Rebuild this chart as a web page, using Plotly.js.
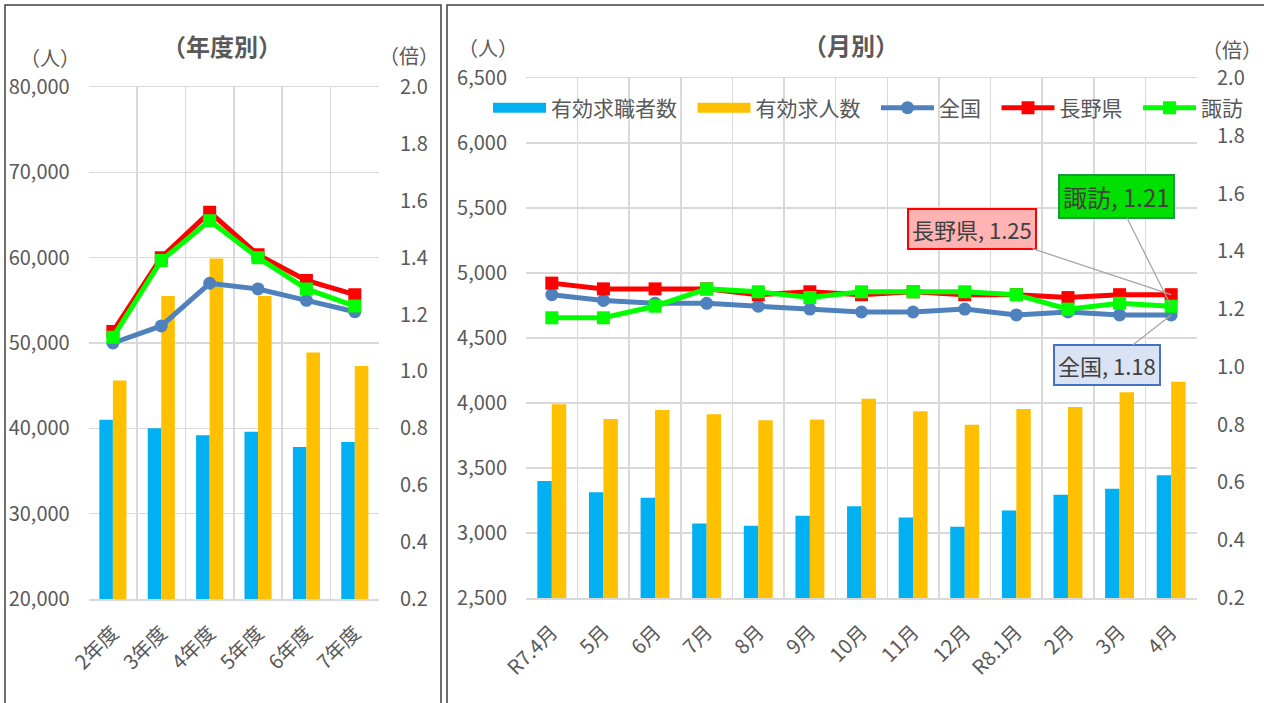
<!DOCTYPE html>
<html>
<head>
<meta charset="utf-8">
<script src="https://cdn.plot.ly/plotly-3.0.1.min.js"></script>
<style>
html,body{margin:0;padding:0;background:#ffffff;}
#chart{width:1264px;height:703px;}
</style>
</head>
<body>
<div id="chart"></div>
<script>
// ---- data: fiscal year chart (年度別) ----
const fyCats = ['2年度','3年度','4年度','5年度','6年度','7年度'];
const fySeekers = [41000, 40000, 39200, 39600, 37800, 38400];
const fyOffers = [45600, 55500, 59900, 55500, 48900, 47300];
const fyNational = [1.10, 1.16, 1.31, 1.29, 1.25, 1.21];
const fyNagano = [1.14, 1.40, 1.56, 1.41, 1.32, 1.27];
const fySuwa = [1.12, 1.39, 1.53, 1.40, 1.29, 1.23];

// ---- data: monthly chart (月別) ----
const moCats = ['R7.4月','5月','6月','7月','8月','9月','10月','11月','12月','R8.1月','2月','3月','4月'];
const moSeekers = [3400, 3313, 3272, 3074, 3056, 3133, 3205, 3120, 3049, 3174, 3295, 3341, 3444];
const moOffers = [3990, 3877, 3946, 3913, 3867, 3874, 4033, 3936, 3833, 3954, 3969, 4082, 4164];
const moNational = [1.25, 1.23, 1.22, 1.22, 1.21, 1.20, 1.19, 1.19, 1.20, 1.18, 1.19, 1.18, 1.18];
const moNagano = [1.29, 1.27, 1.27, 1.27, 1.25, 1.26, 1.25, 1.26, 1.25, 1.25, 1.24, 1.25, 1.25];
const moSuwa = [1.17, 1.17, 1.21, 1.27, 1.26, 1.24, 1.26, 1.26, 1.26, 1.25, 1.20, 1.22, 1.21];

const seriesNames = ['有効求職者数','有効求人数','全国','長野県','諏訪'];
const titles = ['（年度別）','（月別）'];
const unitPeople = '（人）';
const unitRatio = '（倍）';

// ---- styling ----
const W = 1264, H = 703;
const px = x => x / W;
const py = y => 1 - y / H;
const FONT = '"Noto Sans CJK JP", "Noto Sans", sans-serif';
const GRAY = '#595959';
const GRID = '#d9d9d9';
const C_SEEK = '#00b0f0', C_OFFER = '#ffc000', C_NAT = '#4f81bd', C_NAG = '#ff0000', C_SUWA = '#00ff00';

function barTrace(x, y, name, color, xa, ya) {
  return {type:'bar', x:x, y:y, name:name, xaxis:xa, yaxis:ya, showlegend:false,
    marker:{color:color}, hoverinfo:'x+y'};
}
function lineTrace(x, y, name, color, symbol, xa, ya, legend) {
  return {type:'scatter', mode:'lines+markers', x:x, y:y, name:name, xaxis:xa, yaxis:ya,
    showlegend:legend, line:{color:color, width:5},
    marker:{color:color, symbol:symbol, size:13}, hoverinfo:'x+y'};
}
function legendProxy(name, color) {
  return {type:'scatter', mode:'lines', x:[null], y:[null], name:name, xaxis:'x2', yaxis:'y3',
    line:{color:color, width:13}, hoverinfo:'skip', showlegend:true};
}

const data = [
  barTrace(fyCats, fySeekers, seriesNames[0], C_SEEK, 'x', 'y'),
  barTrace(fyCats, fyOffers, seriesNames[1], C_OFFER, 'x', 'y'),
  lineTrace(fyCats, fyNational, seriesNames[2], C_NAT, 'circle', 'x', 'y2', false),
  lineTrace(fyCats, fyNagano, seriesNames[3], C_NAG, 'square', 'x', 'y2', false),
  lineTrace(fyCats, fySuwa, seriesNames[4], C_SUWA, 'square', 'x', 'y2', false),
  barTrace(moCats, moSeekers, seriesNames[0], C_SEEK, 'x2', 'y3'),
  barTrace(moCats, moOffers, seriesNames[1], C_OFFER, 'x2', 'y3'),
  legendProxy(seriesNames[0] + '\u2002', C_SEEK),
  legendProxy(seriesNames[1] + '\u2002', C_OFFER),
  lineTrace(moCats, moNational, seriesNames[2] + '\u2002', C_NAT, 'circle', 'x2', 'y4', true),
  lineTrace(moCats, moNagano, seriesNames[3] + '\u2002', C_NAG, 'square', 'x2', 'y4', true),
  lineTrace(moCats, moSuwa, seriesNames[4], C_SUWA, 'square', 'x2', 'y4', true)
];

const tickFont = {family:FONT, size:20, color:GRAY};
const xTickFont = {family:FONT, size:20, color:GRAY};

function xAxis(domain, anchor, n) {
  return {domain:domain, anchor:anchor, type:'category', range:[-0.5, n - 0.5],
    tickson:'boundaries', showgrid:true, gridcolor:GRID, gridwidth:1.5, showline:true, mirror:true,
    linecolor:GRID, linewidth:1.5, ticks:'', tickangle:-45, tickfont:xTickFont,
    ticklabelstandoff:13, fixedrange:true, zeroline:false};
}
function yLeft(domain, anchor, range, dtick) {
  return {domain:domain, anchor:anchor, range:range, dtick:dtick, tick0:range[0],
    tickformat:',d', showgrid:true, gridcolor:GRID, gridwidth:1.5, zeroline:false,
    showline:false, ticks:'', tickfont:tickFont, ticklabelstandoff:18, fixedrange:true};
}
function yRight(over, anchor, standoff) {
  return {overlaying:over, anchor:anchor, side:'right', range:[0.2, 2.0], dtick:0.2, tick0:0.2,
    tickformat:'.1f', showgrid:false, zeroline:false, showline:false, ticks:'',
    tickfont:tickFont, ticklabelstandoff:standoff, fixedrange:true};
}

const lastI = moCats.length - 1;
function dataLabel(vals, name, ax, ay, bg, border, size) {
  return {xref:'x2', yref:'y4', x:moCats[lastI], y:vals[lastI],
    text:name + ', ' + vals[lastI].toFixed(2), showarrow:true, arrowhead:0,
    arrowwidth:1.3, arrowcolor:'#a6a6a6', ax:ax, ay:ay, standoff:0,
    bgcolor:bg, bordercolor:border, borderwidth:2, borderpad:3,
    font:{family:FONT, size:size, color:'#404040'}};
}
function textAnn(text, x, y, size, bold) {
  return {xref:'paper', yref:'paper', x:px(x), y:py(y), xanchor:'center', yanchor:'middle',
    text: bold ? '<b>' + text + '</b>' : text, showarrow:false,
    font:{family:FONT, size:size, color:GRAY}};
}

const layout = {
  width:W, height:H, margin:{l:0, r:0, t:0, b:0},
  paper_bgcolor:'#ffffff', plot_bgcolor:'rgba(0,0,0,0)',
  font:{family:FONT, color:GRAY},
  barmode:'group', bargap:0.44, bargroupgap:0,
  showlegend:true,
  legend:{orientation:'h', x:px(488), xanchor:'left', y:py(108), yanchor:'middle',
    itemwidth:53, font:{family:FONT, size:21, color:GRAY}, bgcolor:'rgba(0,0,0,0)',
    itemclick:false, itemdoubleclick:false, traceorder:'normal'},
  xaxis: xAxis([px(88.7), px(379)], 'y', fyCats.length),
  yaxis: yLeft([py(599), py(87)], 'x', [20000, 80000], 10000),
  yaxis2: yRight('y', 'x', 20),
  xaxis2: xAxis([px(526), px(1197)], 'y3', moCats.length),
  yaxis3: yLeft([py(598), py(78)], 'x2', [2500, 6500], 500),
  yaxis4: yRight('y3', 'x2', 19),
  shapes:[
    {type:'rect', xref:'paper', yref:'paper', x0:px(5), x1:px(441), y0:-0.05, y1:py(5),
      line:{color:'#404040', width:1.5}, fillcolor:'rgba(0,0,0,0)', layer:'below'},
    {type:'rect', xref:'paper', yref:'paper', x0:px(447), x1:1.05, y0:-0.05, y1:py(5),
      line:{color:'#404040', width:1.5}, fillcolor:'rgba(0,0,0,0)', layer:'below'}
  ],
  annotations:[
    textAnn(titles[0], 222, 46, 24, true),
    textAnn(titles[1], 851, 44, 24, true),
    textAnn(unitPeople, 50, 57, 20, false),
    textAnn(unitRatio, 409, 55, 20, false),
    textAnn(unitPeople, 488, 47, 20, false),
    textAnn(unitRatio, 1232, 49, 20, false),
    dataLabel(moSuwa, seriesNames[4], -55, -110, '#00e000', '#1a9a3a', 24),
    dataLabel(moNagano, seriesNames[3], -199, -66, '#ffb3b3', '#ff0000', 22),
    dataLabel(moNational, seriesNames[2], -64, 50, '#dae3f3', '#4472c4', 22)
  ]
};

Plotly.newPlot('chart', data, layout, {displayModeBar:false, staticPlot:true});
</script>
</body>
</html>
